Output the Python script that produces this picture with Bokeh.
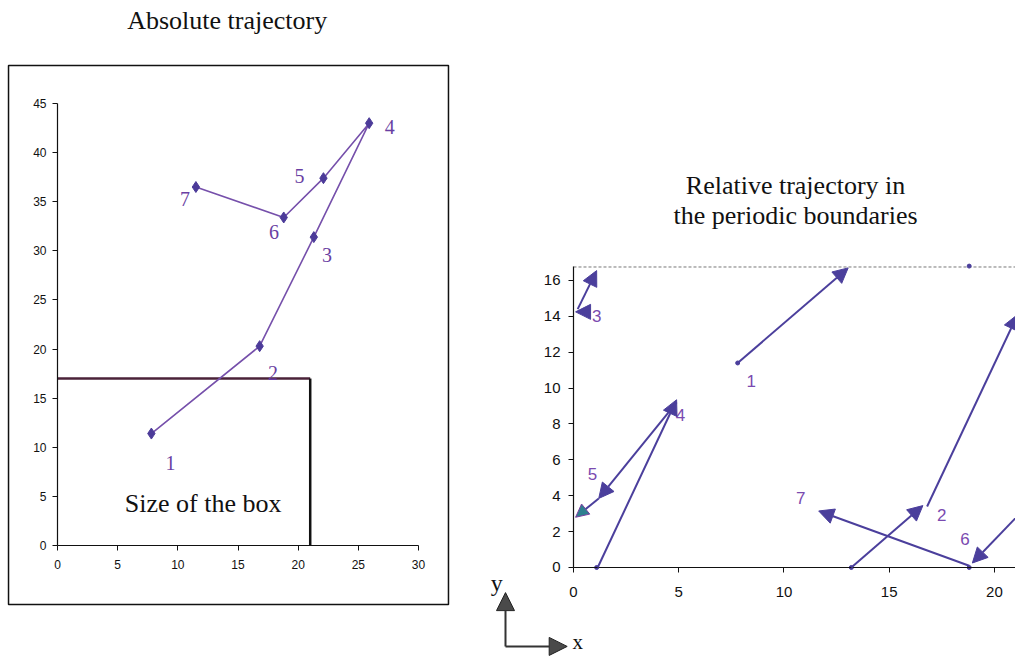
from bokeh.plotting import figure
from bokeh.layouts import row
from bokeh.models import (Range1d, Label, Arrow, NormalHead, LinearAxis,
                          ColumnDataSource, FixedTicker)
from bokeh.embed import file_html
from bokeh.resources import INLINE
from bokeh.core.properties import value

# ---- absolute trajectory (unwrapped positions) ----
steps = ["1", "2", "3", "4", "5", "6", "7"]
abs_x = [7.8, 16.8, 21.3, 25.9, 22.1, 18.8, 11.5]
abs_y = [11.4, 20.3, 31.4, 43.0, 37.4, 33.4, 36.5]
abs_lab_x = [9.4, 17.9, 22.4, 27.6, 20.1, 18.0, 10.6]
abs_lab_y = [8.4, 17.6, 29.6, 42.6, 37.6, 31.9, 35.3]

# simulation box size
box_x = 21.0
box_y = 17.0

# ---- relative trajectory inside the periodic box ----
seg_x0 = [7.8, 13.2, 16.8, 0.6, 0.2, 1.15, 4.9, 21.2, 18.8]
seg_y0 = [11.4, 0.0, 3.4, 14.25, 14.4, 0.0, 9.2, 3.0, 0.1]
seg_x1 = [13.05, 16.6, 21.1, 0.1, 1.1, 4.9, 1.2, 18.95, 11.65]
seg_y1 = [16.7, 3.45, 14.1, 14.25, 16.55, 9.35, 3.85, 0.25, 3.15]
wrap_x0 = [1.2]
wrap_y0 = [3.85]
wrap_x1 = [0.1]
wrap_y1 = [2.8]
dot_x = [7.8, 13.2, 1.1, 18.8, 18.8]
dot_y = [11.4, 0.0, 0.0, 16.8, 0.0]
rel_lab_x = [8.45, 17.5, 1.1, 5.08, 0.9, 18.6, 10.8]
rel_lab_y = [10.4, 2.95, 14.0, 8.5, 5.2, 1.6, 3.85]
rel_box_y = 16.75

left_ticks_x = [0, 5, 10, 15, 20, 25, 30]
left_ticks_y = [0, 5, 10, 15, 20, 25, 30, 35, 40, 45]
right_ticks_x = [0, 5, 10, 15, 20]
right_ticks_y = [0, 2, 4, 6, 8, 10, 12, 14, 16]

SERIF = "Liberation Serif"
SANS = "Liberation Sans"
LINE_C = "#7650ab"
MARK_C = "#4c3b99"
LAB_C = "#6a3fa3"
ARROW_C = "#4b3f9c"


def axes_at_origin(p, xt, yt, xbounds, ybounds, size, x_standoff, y_standoff):
    """Axes pinned to x=0 / y=0 inside a frame that fills the whole canvas."""
    xa = LinearAxis(fixed_location=0, bounds=xbounds, ticker=FixedTicker(ticks=xt),
                    major_label_standoff=x_standoff)
    ya = LinearAxis(fixed_location=0, bounds=ybounds, ticker=FixedTicker(ticks=yt),
                    major_label_standoff=y_standoff)
    for ax in (xa, ya):
        ax.major_label_text_font = SANS
        ax.major_label_text_font_size = size
        ax.major_label_text_color = "#111111"
        ax.major_tick_in = 0
        ax.major_tick_out = 5
        ax.minor_tick_line_color = None
        ax.axis_line_color = "#111111"
        ax.major_tick_line_color = "#111111"
        ax.axis_line_width = 1.2
    p.add_layout(xa, "below")
    p.add_layout(ya, "left")
    p.grid.visible = False
    p.outline_line_color = None


# ---------------- left: absolute trajectory ----------------
pl = figure(width=470, height=657,
            x_range=Range1d(-4.737, 34.32), y_range=Range1d(-11.40, 55.49),
            x_axis_location=None, y_axis_location=None,
            output_backend="svg", toolbar_location=None, min_border=0,
            background_fill_color="white", border_fill_color="white")
axes_at_origin(pl, left_ticks_x, left_ticks_y, (0, 30), (0, 45), "12px", 9, 6)

# panel frame around the chart
pl.quad(left=[-4.07], right=[32.49], top=[48.87], bottom=[-6.01],
        fill_color=None, line_color="#111111", line_width=1.5)
pl.add_layout(Label(x=14.1, y=53.5, text="Absolute trajectory", text_align="center",
                    text_baseline="middle", text_font=SERIF, text_font_size="26px",
                    text_color="#111111"))

pl.line([0, box_x], [box_y, box_y], line_color="#4a2238", line_width=2.5)
pl.line([box_x, box_x], [box_y, 0], line_color="#111111", line_width=2.5)
pl.text(x=[12.1], y=[4.3], text=["Size of the box"], text_align="center",
        text_baseline="middle", text_font=value(SERIF), text_font_size="26px",
        text_color="#111111")

pl.line(abs_x, abs_y, line_color=LINE_C, line_width=1.6)
pl.scatter(abs_x, abs_y, marker="diamond", size=11, fill_color=MARK_C,
           line_color=MARK_C)
pl.text(x=abs_lab_x, y=abs_lab_y, text=steps, text_align="center",
        text_baseline="middle", text_font=value(SERIF), text_font_size="20px",
        text_color=LAB_C)

# ---------------- right: relative trajectory ----------------
pr = figure(width=545, height=657,
            x_range=Range1d(-4.893, 21.0), y_range=Range1d(-5.017, 31.605),
            x_axis_location=None, y_axis_location=None,
            output_backend="svg", toolbar_location=None, min_border=0,
            background_fill_color="white", border_fill_color="white")
axes_at_origin(pr, right_ticks_x, right_ticks_y, (0, 21.5), (0, rel_box_y), "15px", 15, 8)

pr.add_layout(Label(x=10.55, y=21.3, text="Relative trajectory in", text_align="center",
                    text_baseline="middle", text_font=SERIF, text_font_size="26px",
                    text_color="#111111"))
pr.add_layout(Label(x=10.55, y=19.6, text="the periodic boundaries", text_align="center",
                    text_baseline="middle", text_font=SERIF, text_font_size="26px",
                    text_color="#111111"))

pr.segment(x0=[0], y0=[rel_box_y], x1=[box_x], y1=[rel_box_y], line_color="#777777",
           line_width=1, line_dash="3 2")

seg_src = ColumnDataSource(dict(x0=seg_x0, y0=seg_y0, x1=seg_x1, y1=seg_y1))
pr.add_layout(Arrow(source=seg_src, x_start="x0", y_start="y0", x_end="x1", y_end="y1",
                    line_color=ARROW_C, line_width=2,
                    end=NormalHead(size=15, fill_color=ARROW_C, line_color=ARROW_C)))
wrap_src = ColumnDataSource(dict(x0=wrap_x0, y0=wrap_y0, x1=wrap_x1, y1=wrap_y1))
pr.add_layout(Arrow(source=wrap_src, x_start="x0", y_start="y0", x_end="x1", y_end="y1",
                    line_color=ARROW_C, line_width=2,
                    end=NormalHead(size=13, fill_color="#2e7f8f", line_color="#7a3fa0")))
pr.scatter(dot_x, dot_y, size=4, fill_color=ARROW_C, line_color=ARROW_C)
pr.text(x=rel_lab_x, y=rel_lab_y, text=steps, text_align="center",
        text_baseline="middle", text_font=value(SANS), text_font_size="17px",
        text_color="#7a4ab0")

# x / y orientation marker below the axes
pr.add_layout(Arrow(x_start=-3.23, y_start=-4.4, x_end=-3.23, y_end=-1.4,
                    line_color="#333333", line_width=2,
                    end=NormalHead(size=18, fill_color="#4a4a4a", line_color="#222222")))
pr.add_layout(Arrow(x_start=-3.23, y_start=-4.4, x_end=-0.3, y_end=-4.4,
                    line_color="#333333", line_width=2,
                    end=NormalHead(size=18, fill_color="#4a4a4a", line_color="#222222")))
pr.add_layout(Label(x=-3.65, y=-0.85, text="y", text_align="center",
                    text_baseline="middle", text_font=SERIF, text_font_size="24px",
                    text_color="#111111"))
pr.add_layout(Label(x=0.2, y=-4.15, text="x", text_align="center",
                    text_baseline="middle", text_font=SERIF, text_font_size="21px",
                    text_color="#111111"))

layout = row(pl, pr)
open("out.html", "w").write(file_html(layout, INLINE))
